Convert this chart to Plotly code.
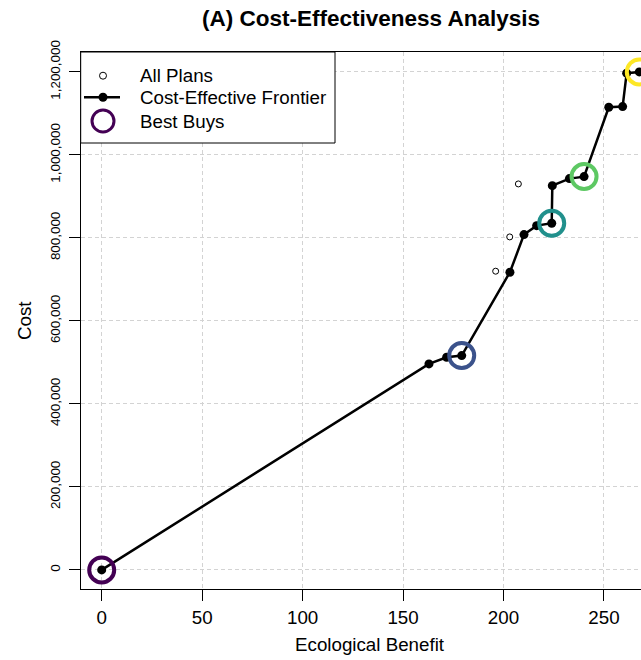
import plotly.graph_objects as go

# ---- data -------------------------------------------------------------
# Plans on the cost-effective frontier (ordered by ecological benefit)
frontier_benefit = [0, 162.9, 171.7, 179.2, 203.2, 210.2, 216.5, 224.0, 224.3,
                    232.8, 240.1, 252.4, 259.3, 261.3, 267.6]
frontier_cost = [0, 496400, 512500, 516400, 717300, 808000, 829600, 835400, 926000,
                 942900, 947700, 1114900, 1116400, 1197000, 1200000]

# Plans that are not cost-effective
other_benefit = [196.1, 203.1, 207.4]
other_cost = [719800, 802400, 930100]

# Best buys and their colours (viridis, 5 levels)
bestbuy_benefit = [0, 179.2, 224.0, 240.1, 267.6]
bestbuy_cost = [0, 516400, 835400, 947700, 1200000]
bestbuy_colors = ["#440154", "#3B528B", "#21908C", "#5DC863", "#FDE725"]

x_ticks = [0, 50, 100, 150, 200, 250]
y_ticks = [0, 200000, 400000, 600000, 800000, 1000000, 1200000]

all_benefit = other_benefit + frontier_benefit
all_cost = other_cost + frontier_cost

# ---- page geometry (pixels) ---------------------------------------------
W, H = 641, 660
L, R, T, B = 81, 641, 52, 589
FONT = "Liberation Sans, Arial, Helvetica, sans-serif"
FS = 18.75
FS_Y = 13.4


def px_x(p):
    return (p - L) / (R - L)


def px_y(p):
    return (B - p) / (B - T)


fig = go.Figure()

fig.add_trace(go.Scatter(
    x=all_benefit, y=all_cost, mode="markers", name="All Plans",
    marker=dict(symbol="circle", size=6, color="white",
                line=dict(color="black", width=1)),
    showlegend=False,
))
fig.add_trace(go.Scatter(
    x=frontier_benefit, y=frontier_cost, mode="lines+markers",
    name="Cost-Effective Frontier",
    line=dict(color="black", width=2.5),
    marker=dict(symbol="circle", size=9, color="black"),
    showlegend=False,
))
fig.add_trace(go.Scatter(
    x=bestbuy_benefit, y=bestbuy_cost, mode="markers", name="Best Buys",
    marker=dict(symbol="circle-open", size=25, color=bestbuy_colors,
                line=dict(width=4, color=bestbuy_colors)),
    showlegend=False,
))

# ---- legend box drawn as shapes + text -----------------------------------
leg_x0, leg_x1, leg_y0, leg_y1 = 80.7, 335, 52, 143
sym_x, txt_x = 103, 137.7
rows = [75.7, 97.3, 121]
shapes = [
    dict(type="rect", xref="paper", yref="paper",
         x0=px_x(leg_x0), x1=px_x(leg_x1), y0=px_y(leg_y1), y1=px_y(leg_y0),
         line=dict(color="black", width=1), fillcolor="white", layer="above"),
    # All Plans symbol
    dict(type="circle", xref="paper", yref="paper", xsizemode="pixel", ysizemode="pixel",
         xanchor=px_x(sym_x), yanchor=px_y(rows[0]), x0=-3.5, x1=3.5, y0=-3.5, y1=3.5,
         line=dict(color="black", width=1), fillcolor="white", layer="above"),
    # Frontier symbol
    dict(type="line", xref="paper", yref="paper",
         x0=px_x(84), x1=px_x(120), y0=px_y(rows[1]), y1=px_y(rows[1]),
         line=dict(color="black", width=2.5), layer="above"),
    dict(type="circle", xref="paper", yref="paper", xsizemode="pixel", ysizemode="pixel",
         xanchor=px_x(sym_x), yanchor=px_y(rows[1]), x0=-4.5, x1=4.5, y0=-4.5, y1=4.5,
         line=dict(color="black", width=0), fillcolor="black", layer="above"),
    # Best Buys symbol
    dict(type="circle", xref="paper", yref="paper", xsizemode="pixel", ysizemode="pixel",
         xanchor=px_x(sym_x), yanchor=px_y(rows[2]), x0=-11, x1=11, y0=-11, y1=11,
         line=dict(color=bestbuy_colors[0], width=3), fillcolor="rgba(0,0,0,0)",
         layer="above"),
]
legend_labels = ["All Plans", "Cost-Effective Frontier", "Best Buys"]
annotations = [
    dict(text=lab, xref="paper", yref="paper", x=px_x(txt_x), y=px_y(r),
         xanchor="left", yanchor="middle", showarrow=False,
         font=dict(family=FONT, size=FS, color="black"))
    for lab, r in zip(legend_labels, rows)
]

# axis titles
annotations.append(dict(text="Ecological Benefit", xref="paper", yref="paper",
                        x=px_x(370), y=px_y(645), xanchor="center", yanchor="middle",
                        showarrow=False, font=dict(family=FONT, size=FS, color="black")))
annotations.append(dict(text="Cost", xref="paper", yref="paper",
                        x=px_x(24), y=px_y(321), xanchor="center", yanchor="middle",
                        textangle=-90, showarrow=False,
                        font=dict(family=FONT, size=FS, color="black")))

# axis ranges: 0 sits at x=101.7px / y=570px
x_scale = 2.009  # px per unit of benefit
x_range = [(L - 101.7) / x_scale, (R - 101.7) / x_scale]
y_range = [-46000, 1248000]

axis_common = dict(
    showgrid=True, gridcolor="#D3D3D3", griddash="4px,3px", gridwidth=1,
    zeroline=False, showline=True, linecolor="black", linewidth=1,
    ticks="outside", ticklen=11, tickcolor="black", tickwidth=1,
)

fig.update_layout(
    width=W, height=H,
    margin=dict(l=L, r=W - R, t=T, b=H - B, pad=0),
    paper_bgcolor="white", plot_bgcolor="white",
    showlegend=False,
    title=dict(text="<b>(A) Cost-Effectiveness Analysis</b>",
               x=371 / W, xref="container", xanchor="center",
               y=1 - 18 / H, yref="container", yanchor="middle",
               font=dict(family=FONT, size=22.5, color="black")),
    xaxis=dict(range=x_range, tickvals=x_ticks, mirror=True,
               tickfont=dict(family=FONT, size=FS, color="black"), **axis_common),
    yaxis=dict(range=y_range, tickvals=y_ticks, tickformat=",d", tickangle=-90,
               mirror=False, ticklabelstandoff=4,
               tickfont=dict(family=FONT, size=FS_Y, color="black"), **axis_common),
    shapes=shapes,
    annotations=annotations,
)

fig.write_html("out.html")
